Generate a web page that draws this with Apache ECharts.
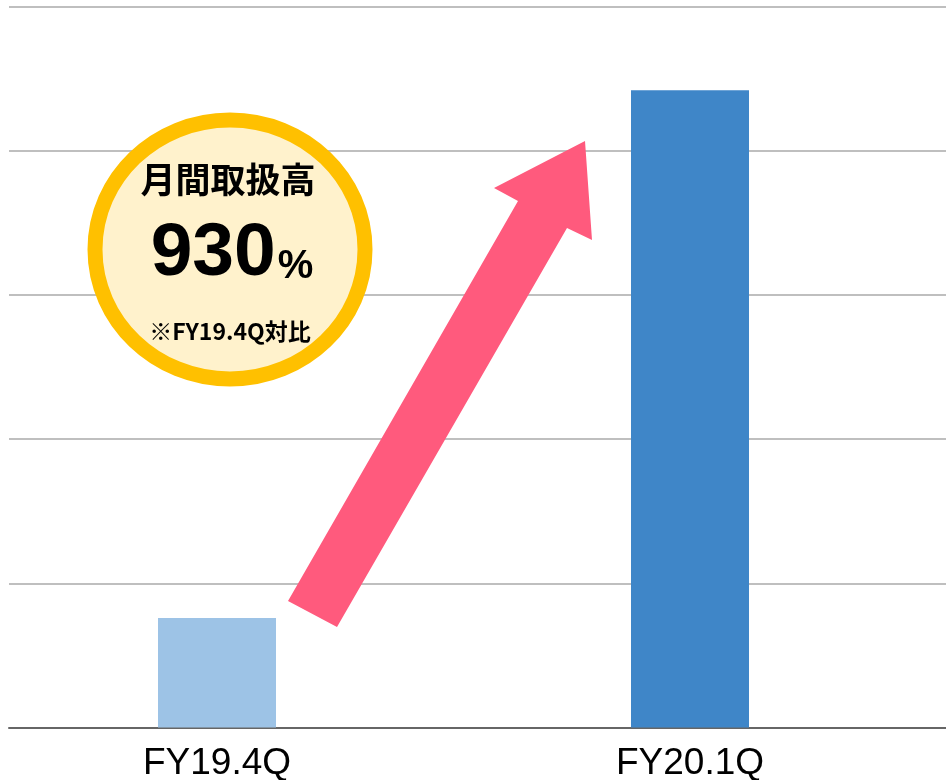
<!DOCTYPE html>
<html>
<head>
<meta charset="utf-8">
<script src="https://cdn.jsdelivr.net/npm/echarts@6/dist/echarts.min.js"></script>
<style>
  html, body { margin: 0; padding: 0; background: #fff; }
  #visualisation { width: 946px; height: 780px; }
</style>
</head>
<body>
<div id="visualisation"></div>
<script>
// Data
const categories = ['FY19.4Q', 'FY20.1Q'];
const values = [76, 442];
const barColors = ['#9DC3E6', '#3F86C8'];
const yMax = 500;
const yStep = 100;

function drawVisualisation() {
    let visualisation = echarts.init(document.getElementById('visualisation'));

    let option = {
        animation: false,
        backgroundColor: '#ffffff',
        grid: [
            // grid 0: gridlines + axis line
            { left: 9, right: 0, top: 6.5, bottom: 52.5, outerBoundsMode: 'none' },
            // grid 1: bars + labels (plot area wider than the picture, as in the cropped original)
            { left: -19.5, right: 19.5, top: 6.5, bottom: 52.5, outerBoundsMode: 'none' }
        ],
        xAxis: [
            {
                gridIndex: 0, type: 'category', data: categories,
                axisLine: { show: true, lineStyle: { color: '#666666', width: 2 } },
                axisTick: { show: false }, axisLabel: { show: false }
            },
            {
                gridIndex: 1, type: 'category', data: categories,
                axisLine: { show: false }, axisTick: { show: false },
                axisLabel: {
                    color: '#000000', fontSize: 37, margin: 18,
                    fontFamily: '"Liberation Sans", Arial, sans-serif'
                }
            }
        ],
        yAxis: [
            {
                gridIndex: 0, type: 'value', min: 0, max: yMax, interval: yStep,
                axisLine: { show: false }, axisTick: { show: false }, axisLabel: { show: false },
                splitLine: { lineStyle: { color: '#BFBFBF', width: 2 } }
            },
            {
                gridIndex: 1, type: 'value', min: 0, max: yMax, interval: yStep,
                show: false, splitLine: { show: false }
            }
        ],
        series: [{
            type: 'bar',
            xAxisIndex: 1, yAxisIndex: 1,
            barWidth: 118,
            data: values.map((v, i) => ({ value: v, itemStyle: { color: barColors[i] } }))
        }],
        graphic: [
            {
                type: 'polygon', z: 10,
                shape: { points: [[288, 601], [337, 627], [567, 228], [592, 240], [585, 141], [494, 188], [518, 201]] },
                style: { fill: '#FF5A7D' }
            },
            {
                type: 'ellipse', z: 11,
                shape: { cx: 230, cy: 249.5, rx: 135, ry: 129.5 },
                style: { fill: '#FFF2CC', stroke: '#FFC000', lineWidth: 15 }
            },
            {
                type: 'text', z: 12, x: 228, y: 180,
                style: {
                    text: '月間取扱高', fill: '#000', align: 'center', verticalAlign: 'middle',
                    font: 'bold 35px "Noto Sans CJK JP", sans-serif'
                }
            },
            {
                type: 'text', z: 12, x: 232, y: 254,
                style: {
                    text: '{a|930}{b|%}', fill: '#000', align: 'center', verticalAlign: 'middle',
                    rich: {
                        a: { fontSize: 75, fontWeight: 'bold', fontFamily: '"Liberation Sans", Arial, sans-serif', verticalAlign: 'bottom' },
                        b: { fontSize: 40, fontWeight: 'bold', fontFamily: '"Liberation Sans", Arial, sans-serif', verticalAlign: 'bottom', padding: [0, 0, 5, 2] }
                    }
                }
            },
            {
                type: 'text', z: 12, x: 230, y: 331,
                style: {
                    text: '※FY19.4Q対比', fill: '#000', align: 'center', verticalAlign: 'middle',
                    font: 'bold 23px "Noto Sans CJK JP", sans-serif'
                }
            }
        ]
    };

    visualisation.setOption(option);
}

window.addEventListener('load', drawVisualisation);
</script>
</body>
</html>
